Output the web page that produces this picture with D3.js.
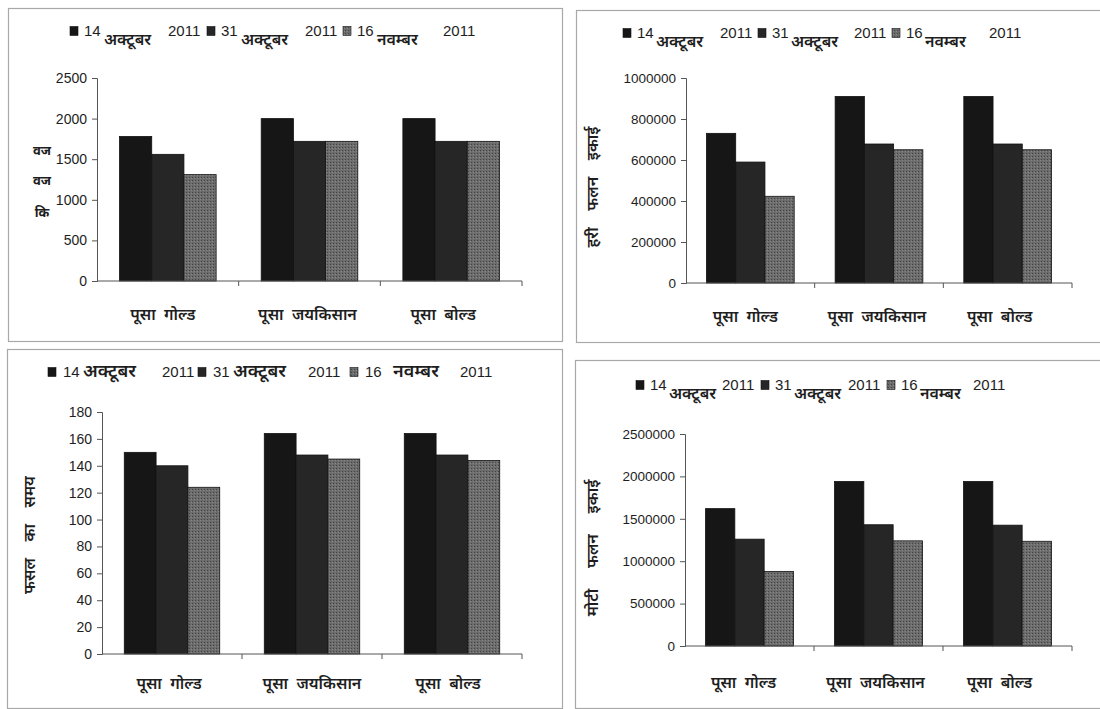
<!DOCTYPE html>
<html>
<head>
<meta charset="utf-8">
<script src="https://cdn.jsdelivr.net/npm/d3@7/dist/d3.min.js"></script>
<style>
  html, body { margin: 0; padding: 0; background: #fff; }
  svg { display: block; }
  text { font-family: "Liberation Sans", Arial, "Noto Sans Devanagari", "Lohit Devanagari", sans-serif; fill: #1e1e1e; }
  .hi { font-family: "Noto Sans Devanagari", "Lohit Devanagari", "Mangal", "Noto Sans", sans-serif; }
</style>
</head>
<body>
<svg id="chart" width="1100" height="709"></svg>
<script>
// Varieties on the x axis and sowing dates (the three series)
const varieties = ["पूसा\u00A0\u00A0गोल्ड", "पूसा\u00A0\u00A0जयकिसान", "पूसा\u00A0\u00A0बोल्ड"];
const dayLabels = ["14", "31", "16"];
const monthLabels = ["अक्टूबर", "अक्टूबर", "नवम्बर"];
const yearLabel = "2011";

// Panel 1 values, one array per sowing date (order follows varieties)
const panel1Oct14 = [1780, 2000, 2000];
const panel1Oct31 = [1560, 1720, 1720];
const panel1Nov16 = [1310, 1720, 1720];
const panel1Ticks = [0, 500, 1000, 1500, 2000, 2500];

// Panel 2
const panel2Oct14 = [730000, 910000, 910000];
const panel2Oct31 = [590000, 678000, 678000];
const panel2Nov16 = [423000, 650000, 650000];
const panel2Ticks = [0, 200000, 400000, 600000, 800000, 1000000];

// Panel 3: crop duration
const panel3Oct14 = [150, 164, 164];
const panel3Oct31 = [140, 148, 148];
const panel3Nov16 = [124, 145, 144];
const panel3Ticks = [0, 20, 40, 60, 80, 100, 120, 140, 160, 180];

// Panel 4
const panel4Oct14 = [1620000, 1940000, 1940000];
const panel4Oct31 = [1260000, 1430000, 1425000];
const panel4Nov16 = [880000, 1240000, 1235000];
const panel4Ticks = [0, 500000, 1000000, 1500000, 2000000, 2500000];

const seriesFill = ["#161616", "#262626", "url(#dots)"];

const svg = d3.select("#chart");

// fine dotted grey fill used for the third series
const defs = svg.append("defs");
const pat = defs.append("pattern").attr("id", "dots")
  .attr("patternUnits", "userSpaceOnUse").attr("width", 3).attr("height", 3);
pat.append("rect").attr("width", 3).attr("height", 3).attr("fill", "#6c6c6c");
pat.append("rect").attr("x", 0).attr("y", 0).attr("width", 1).attr("height", 1).attr("fill", "#444");
pat.append("rect").attr("x", 2).attr("y", 1).attr("width", 1).attr("height", 1).attr("fill", "#888");

const panels = [
  {
    box: [8, 8, 554, 333],
    series: [panel1Oct14, panel1Oct31, panel1Nov16], ticks: panel1Ticks,
    xr: [97, 522], yr: [281, 78], tickFont: 14,
    xLabelY: 320, xLabelDx: [-5, -2, -8],
    legend: { sq: [70, 207, 343], cy: 31, numDx: 14, monDx: 34, monDy: 9, yearDx: [98, 98, 100], size: 15, monSize: 16 },
    yLabel: { stacked: ["वज", "वज", "कि"], x: 42, ys: [155, 185, 217] }
  },
  {
    box: [576, 10, 540, 332],
    series: [panel2Oct14, panel2Oct31, panel2Nov16], ticks: panel2Ticks,
    xr: [686, 1072], yr: [283, 78], tickFont: 13.5,
    xLabelY: 322, xLabelDx: [-5, -2, -8],
    legend: { sq: [623, 758, 892], cy: 33, numDx: 14, monDx: 33, monDy: 9, yearDx: [97, 96, 97], size: 15, monSize: 16 },
    yLabel: { text: "हरी\u00A0\u00A0\u00A0\u00A0फलन\u00A0\u00A0\u00A0\u00A0इकाई", x: 598, y: 187 }
  },
  {
    box: [7, 349, 555, 359],
    series: [panel3Oct14, panel3Oct31, panel3Nov16], ticks: panel3Ticks,
    xr: [102, 522], yr: [654, 412], tickFont: 14,
    xLabelY: 689, xLabelDx: [-3, 0, -4],
    legend: { sq: [48, 198, 350], cy: 372, numDx: 15, monDx: 35, monDy: 0, yearDx: [114, 110, 110], monDxAlt: [35, 35, 43], size: 15, monSize: 18 },
    yLabel: { text: "फसल\u00A0\u00A0\u00A0\u00A0का\u00A0\u00A0\u00A0\u00A0समय", x: 35, y: 535 }
  },
  {
    box: [575, 360, 540, 348],
    series: [panel4Oct14, panel4Oct31, panel4Nov16], ticks: panel4Ticks,
    xr: [685, 1072], yr: [646, 434], tickFont: 13.5,
    xLabelY: 688, xLabelDx: [-6, -3, -8],
    legend: { sq: [636, 761, 887], cy: 385, numDx: 14, monDx: 33, monDy: 9, yearDx: [86, 87, 86], size: 15, monSize: 16 },
    yLabel: { text: "मोटी\u00A0\u00A0\u00A0\u00A0\u00A0फलन\u00A0\u00A0\u00A0\u00A0\u00A0इकाई", x: 598, y: 548 }
  }
];

panels.forEach(p => {
  const g = svg.append("g");

  // panel frame
  g.append("rect")
    .attr("x", p.box[0] + 0.5).attr("y", p.box[1] + 0.5)
    .attr("width", p.box[2]).attr("height", p.box[3])
    .attr("fill", "none").attr("stroke", "#a8a8a8").attr("stroke-width", 1.2);

  const maxTick = d3.max(p.ticks);
  const y = d3.scaleLinear().domain([0, maxTick]).range(p.yr);
  const x0 = d3.scaleBand().domain(varieties).range(p.xr).padding(0);
  const x1 = d3.scaleBand().domain([0, 1, 2]).range([0, x0.bandwidth()])
    .paddingInner(0).paddingOuter(0.7);

  // bars
  p.series.forEach((vals, si) => {
    g.append("g").selectAll("rect").data(vals).join("rect")
      .attr("x", (d, i) => x0(varieties[i]) + x1(si))
      .attr("y", d => y(d))
      .attr("width", x1.bandwidth())
      .attr("height", d => y(0) - y(d))
      .attr("fill", seriesFill[si])
      .attr("stroke", "#111").attr("stroke-width", 0.8);
  });

  // y axis
  const ya = g.append("g").attr("transform", `translate(${p.xr[0]},0)`)
    .call(d3.axisLeft(y).tickValues(p.ticks).tickFormat(d3.format("d")).tickSize(5).tickPadding(5));
  ya.select(".domain").attr("stroke", "#555");
  ya.selectAll(".tick line").attr("stroke", "#555");
  ya.selectAll(".tick text").attr("font-size", p.tickFont).attr("fill", "#1e1e1e")
    .style("font-family", "'Liberation Sans', Arial, sans-serif");

  // x axis with tick marks between categories
  const xa = g.append("g").attr("transform", `translate(0,${p.yr[0]})`);
  xa.append("line").attr("x1", p.xr[0]).attr("x2", p.xr[1])
    .attr("stroke", "#555");
  const edges = varieties.map(v => x0(v) + x0.bandwidth());
  xa.selectAll("line.t").data(edges).join("line").attr("class", "t")
    .attr("x1", d => d).attr("x2", d => d).attr("y1", 0).attr("y2", 5)
    .attr("stroke", "#555");
  xa.selectAll("text").data(varieties).join("text").attr("class", "hi")
    .attr("x", (d, i) => x0(d) + x0.bandwidth() / 2 + p.xLabelDx[i])
    .attr("y", p.xLabelY - p.yr[0])
    .attr("text-anchor", "middle").attr("font-size", 16).attr("font-weight", 600)
    .attr("fill", "#2a2a2a")
    .text(d => d);

  // legend
  const L = p.legend;
  dayLabels.forEach((day, i) => {
    const sx = L.sq[i];
    g.append("rect").attr("x", sx).attr("y", L.cy - 4.5).attr("width", 8).attr("height", 9)
      .attr("fill", seriesFill[i]).attr("stroke", "#111").attr("stroke-width", 0.6);
    g.append("text").attr("x", sx + L.numDx).attr("y", L.cy + 5)
      .attr("font-size", L.size).text(day);
    const mdx = L.monDxAlt ? L.monDxAlt[i] : L.monDx;
    g.append("text").attr("class", "hi").attr("x", sx + mdx).attr("y", L.cy + 5 + L.monDy)
      .attr("font-size", L.monSize).attr("font-weight", 600).text(monthLabels[i]);
    g.append("text").attr("x", sx + L.yearDx[i]).attr("y", L.cy + 5)
      .attr("font-size", L.size).text(yearLabel);
  });

  // y-axis title
  const Y = p.yLabel;
  if (Y.stacked) {
    Y.stacked.forEach((t, i) => {
      g.append("text").attr("class", "hi").attr("x", Y.x).attr("y", Y.ys[i])
        .attr("text-anchor", "middle").attr("font-size", 13).attr("font-weight", 700)
        .attr("fill", "#333").text(t);
    });
  } else {
    g.append("text").attr("class", "hi")
      .attr("transform", `translate(${Y.x},${Y.y}) rotate(-90)`)
      .attr("text-anchor", "middle").attr("font-size", 16).attr("font-weight", 600)
      .attr("fill", "#2a2a2a").text(Y.text);
  }
});
</script>
</body>
</html>
